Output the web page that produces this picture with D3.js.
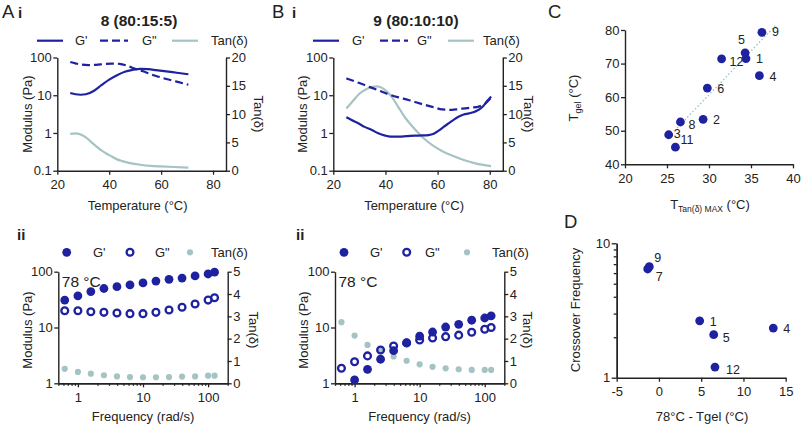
<!DOCTYPE html>
<html><head><meta charset="utf-8">
<script src="https://cdn.jsdelivr.net/npm/d3@7"></script>
<style>
body{margin:0;background:#fff}
svg{display:block;font-family:"Liberation Sans",Arial,Helvetica,sans-serif}
</style></head><body>
<svg id="c" width="802" height="427"></svg>
<script>
// ---------------- DATA ----------------
// Panel A i : sample 8 (80:15:5) temperature sweep
const tempA_Gp = [25,27,29,31,34,37,40,43,46,49,52,55,58,62,66,70.5];
const valA_Gp  = [11.5,10.6,10.3,10.6,13,18.5,26,34,42,47,50,49,46.5,43,39.5,36];
const tempA_Gpp = [25,27,29,32,35,38,41,44,47,50,53,56,59,62,66,70.5];
const valA_Gpp  = [76,70,65,63,64,67,69,68,60,50,43,36,31,27,23,19];
const tempA_Tan = [25,27,29,31,33,35,37,39,41,43,45,48,52,56,60,65,70.5];
const valA_Tan  = [6.5,6.6,6.4,5.9,5.1,4.3,3.6,3.0,2.5,2.0,1.7,1.35,1.05,0.85,0.75,0.65,0.55];
// Panel B i : sample 9 (80:10:10)
const tempB_Gp = [25,27,29.6,32,34.8,37,39.9,42,45,48,51.4,54,56.5,58.5,60.4,62.3,64.2,66,68,70,72,74,76,77.5,79,80.5];
const valB_Gp  = [2.6,2.2,1.8,1.45,1.2,1.0,0.85,0.8,0.8,0.82,0.85,0.86,0.88,0.95,1.15,1.45,1.8,2.2,2.7,3.1,3.3,3.6,4.2,5.2,7.0,9.2];
const tempB_Gpp = [25,30,33.5,37,41.2,45,48.8,52,55.3,58.5,61.7,65.5,68,70.7,73,75.8,78.4,80.5];
const valB_Gpp  = [28,21,17,13.8,10.6,8.8,7.5,6.4,5.5,4.8,4.2,4.1,4.3,4.5,4.7,5.0,6.1,8.6];
const tempB_Tan = [25,27.5,30,33,35,36.5,38,40,42.5,45,47.5,50,53,56,59,62,66,70,74.5,80.5];
const valB_Tan  = [11.0,12.3,13.6,14.5,14.8,14.9,14.8,14.2,13.0,11.2,9.4,8.0,6.5,5.2,4.2,3.4,2.6,1.9,1.3,0.8];
// Panels ii : frequency sweeps at 78 °C
const freq = [0.628,1,1.58,2.51,3.98,6.31,10,15.8,25.1,39.8,63.1,100,125.6];
const fA_Gp  = [31,37,44,50,54,58,63,68,73,77,84,91,98];
const fA_Gpp = [20,20,19.2,18.7,18.2,17.7,17.7,18.7,20.6,23,26.3,31,34.2];
const fA_Tan = [0.65,0.51,0.43,0.36,0.31,0.28,0.27,0.27,0.28,0.30,0.31,0.34,0.34];
const fB_Gp  = [null,1.15,1.78,2.7,3.84,5.3,7.0,8.3,10.2,11.4,13.5,14.8,16.2];
const fB_Gpp = [1.86,2.44,3.1,3.95,4.66,5.3,5.97,6.5,6.85,7.3,8.2,9.3,10];
const fB_Tan = [2.74,2.14,1.72,1.46,1.2,1.01,0.85,0.74,0.67,0.63,0.60,0.60,0.60];
// Panel C
const cIds  = ["9","5","1","12","4","6","2","8","3","11"];
const cTtan = [36.3,34.3,34.4,31.5,36.0,29.8,29.3,26.6,25.2,26.0];
const cTgel = [79.3,73.2,71.5,71.4,66.4,62.7,53.4,52.6,48.8,45.1];
const cFitX = [26.2,37.9];
const cFitY = [50.8,81.3];
// Panel D
const dIds  = ["9","7","1","5","4","12"];
const dDT   = [-1.14,-1.33,4.82,6.48,13.53,6.63];
const dFreq = [6.7,6.44,2.65,2.09,2.34,1.2];
// tick labels
const tempTicks = [20,40,60,80];
const modTicksT = [0.1,1,10,100];
const tanTicksT = [0,5,10,15,20];
const freqTicks = [1,10,100];
const modTicksF = [1,10,100];
const tanTicksF = [0,1,2,3,4,5];
const cXTicks = [20,25,30,35,40];
const cYTicks = [40,50,60,70,80];
const dXTicks = [-5,0,5,10,15];
const dYTicks = [1,10];

// ---------------- STYLE ----------------
const BLUE = "#1e22a0", TANC = "#a6c3c3", INK = "#222";
const FONT = '"Liberation Sans", Arial, Helvetica, sans-serif';
const svg = d3.select("#c");

function txt(x,y,s,o={}){
  const t = svg.append("text").attr("x",x).attr("y",y).text(s)
    .attr("font-size",o.size||13).attr("fill",o.fill||INK)
    .attr("text-anchor",o.anchor||"start").attr("font-family",FONT);
  if(o.bold) t.attr("font-weight","bold");
  if(o.rot!==undefined) t.attr("transform",`rotate(${o.rot},${x},${y})`);
  if(o.dom) t.attr("dominant-baseline",o.dom);
  return t;
}
function styleAxis(g,size){
  g.select(".domain").attr("stroke",INK).attr("stroke-width",1.4);
  g.selectAll(".tick line").attr("stroke",INK).attr("stroke-width",1.3);
  g.selectAll(".tick text").attr("font-size",size||13).attr("fill",INK).attr("font-family",FONT);
  return g;
}
function fmt(d){ return String(d); }

// ---------------- TEMPERATURE PANELS ----------------
function tempPanel(cfg){
  const x = d3.scaleLinear([20,85],[cfg.x0,cfg.x1]);
  const y = d3.scaleLog([0.1,100],[170.7,57.5]);
  const t = d3.scaleLinear([0,20],[170.7,57.5]);
  styleAxis(svg.append("g").attr("transform","translate(0,170.7)")
    .call(d3.axisBottom(x).tickValues(tempTicks).tickFormat(fmt).tickSize(4).tickSizeOuter(0).tickPadding(5)));
  styleAxis(svg.append("g").attr("transform",`translate(${cfg.x0},0)`)
    .call(d3.axisLeft(y).tickValues(modTicksT).tickFormat(fmt).tickSize(4).tickSizeOuter(0).tickPadding(1.5)));
  styleAxis(svg.append("g").attr("transform",`translate(${cfg.x1},0)`)
    .call(d3.axisRight(t).tickValues(tanTicksT).tickFormat(fmt).tickSize(4).tickSizeOuter(0).tickPadding(1.5)));
  const lineLog = (xs,vs)=>d3.line().curve(d3.curveMonotoneX).x((d,i)=>x(xs[i])).y(d=>y(d))(vs);
  const lineLin = (xs,vs)=>d3.line().curve(d3.curveMonotoneX).x((d,i)=>x(xs[i])).y(d=>t(d))(vs);
  svg.append("path").attr("d",lineLin(cfg.tanT,cfg.tanV)).attr("fill","none").attr("stroke",TANC).attr("stroke-width",2.2);
  svg.append("path").attr("d",lineLog(cfg.gppT,cfg.gppV)).attr("fill","none").attr("stroke",BLUE).attr("stroke-width",2.2).attr("stroke-dasharray","8,4");
  svg.append("path").attr("d",lineLog(cfg.gpT,cfg.gpV)).attr("fill","none").attr("stroke",BLUE).attr("stroke-width",2.2);
  // legend
  const L = cfg.leg, ly = 40.7;
  svg.append("line").attr("x1",L[0]).attr("x2",L[0]+26).attr("y1",ly).attr("y2",ly).attr("stroke",BLUE).attr("stroke-width",2.2);
  txt(L[1],ly+4.5,"G'");
  svg.append("line").attr("x1",L[2]).attr("x2",L[2]+28).attr("y1",ly).attr("y2",ly).attr("stroke",BLUE).attr("stroke-width",2.2).attr("stroke-dasharray","8,4");
  txt(L[3],ly+4.5,'G"');
  svg.append("line").attr("x1",L[4]).attr("x2",L[4]+26).attr("y1",ly).attr("y2",ly).attr("stroke",TANC).attr("stroke-width",2.2);
  txt(L[5],ly+4.5,"Tan(δ)");
  // titles
  txt(cfg.titleX,26,cfg.title,{size:15.5,bold:true,anchor:"middle"});
  txt(cfg.ylabX,114,"Modulus (Pa)",{rot:-90,anchor:"middle"});
  txt(cfg.rlabX,114,"Tan(δ)",{rot:90,anchor:"middle"});
  txt((cfg.x0+cfg.x1)/2-4,210,"Temperature (°C)",{anchor:"middle"});
}
tempPanel({x0:57.3,x1:226,tanT:tempA_Tan,tanV:valA_Tan,gpT:tempA_Gp,gpV:valA_Gp,gppT:tempA_Gpp,gppV:valA_Gpp,
  leg:[37,75,100,142,172,211],title:"8 (80:15:5)",titleX:139,ylabX:32,rlabX:254});
tempPanel({x0:333.3,x1:502.8,tanT:tempB_Tan,tanV:valB_Tan,gpT:tempB_Gp,gpV:valB_Gp,gppT:tempB_Gpp,gppV:valB_Gpp,
  leg:[313,352,380,417,448,483],title:"9 (80:10:10)",titleX:416,ylabX:307,rlabX:524});

// ---------------- FREQUENCY PANELS ----------------
function freqPanel(cfg){
  const x = d3.scaleLog([0.5,200],[cfg.x0,cfg.x1]);
  const y = d3.scaleLog([1,100],[383.3,271.7]);
  const t = d3.scaleLinear([0,5],[383.3,271.7]);
  const minors = [];
  [0.1,1,10,100].forEach(b=>{for(let k=2;k<=9;k++){const v=b*k; if(v>=0.5&&v<=200&&![1,10,100].includes(v)) minors.push(v);}});
  styleAxis(svg.append("g").attr("transform","translate(0,383.3)")
    .call(d3.axisBottom(x).tickValues(minors).tickFormat("").tickSize(2.5).tickSizeOuter(0)));
  styleAxis(svg.append("g").attr("transform","translate(0,383.3)")
    .call(d3.axisBottom(x).tickValues(freqTicks).tickFormat(fmt).tickSize(4).tickSizeOuter(0).tickPadding(5)));
  styleAxis(svg.append("g").attr("transform",`translate(${cfg.x0},0)`)
    .call(d3.axisLeft(y).tickValues(modTicksF).tickFormat(fmt).tickSize(4).tickSizeOuter(0).tickPadding(1.5)));
  styleAxis(svg.append("g").attr("transform",`translate(${cfg.x1},0)`)
    .call(d3.axisRight(t).tickValues(tanTicksF).tickFormat(fmt).tickSize(4).tickSizeOuter(0).tickPadding(1.5)));
  const idx = freq.map((f,i)=>i);
  svg.append("g").selectAll("circle").data(idx.filter(i=>cfg.tan[i]!=null)).join("circle")
    .attr("cx",i=>x(freq[i])).attr("cy",i=>t(cfg.tan[i])).attr("r",3.1).attr("fill",TANC);
  svg.append("g").selectAll("circle").data(idx.filter(i=>cfg.gpp[i]!=null)).join("circle")
    .attr("cx",i=>x(freq[i])).attr("cy",i=>y(cfg.gpp[i])).attr("r",3.4).attr("fill","none").attr("stroke",BLUE).attr("stroke-width",2.3);
  svg.append("g").selectAll("circle").data(idx.filter(i=>cfg.gp[i]!=null)).join("circle")
    .attr("cx",i=>x(freq[i])).attr("cy",i=>y(cfg.gp[i])).attr("r",4.4).attr("fill",BLUE);
  // legend
  const L = cfg.leg, ly = 252.3;
  svg.append("circle").attr("cx",L[0]).attr("cy",ly).attr("r",4.4).attr("fill",BLUE);
  txt(L[1],ly+4.5,"G'");
  svg.append("circle").attr("cx",L[2]).attr("cy",ly).attr("r",3.4).attr("fill","none").attr("stroke",BLUE).attr("stroke-width",2.3);
  txt(L[3],ly+4.5,'G"');
  svg.append("circle").attr("cx",L[4]).attr("cy",ly).attr("r",3.1).attr("fill",TANC);
  txt(L[5],ly+4.5,"Tan(δ)");
  txt(cfg.x0+3.5,287,"78 °C",{size:15.5});
  txt(cfg.ylabX,330,"Modulus (Pa)",{rot:-90,anchor:"middle"});
  txt(cfg.rlabX,330,"Tan(δ)",{rot:90,anchor:"middle"});
  txt((cfg.x0+cfg.x1)/2,421,"Frequency (rad/s)",{anchor:"middle"});
}
freqPanel({x0:58.3,x1:227.7,gp:fA_Gp,gpp:fA_Gpp,tan:fA_Tan,leg:[66.7,93,130,155,190,211],ylabX:32,rlabX:249});
freqPanel({x0:335,x1:504.3,gp:fB_Gp,gpp:fB_Gpp,tan:fB_Tan,leg:[344,370,406.7,425,467,492],ylabX:308,rlabX:523});

// ---------------- PANEL C ----------------
{
  const x = d3.scaleLinear([20,40],[625,793]);
  const y = d3.scaleLinear([40,80],[164.3,30]);
  styleAxis(svg.append("g").attr("transform","translate(0,164.3)")
    .call(d3.axisBottom(x).tickValues(cXTicks).tickFormat(fmt).tickSize(4).tickSizeOuter(0).tickPadding(5)));
  styleAxis(svg.append("g").attr("transform","translate(625,0)")
    .call(d3.axisLeft(y).tickValues(cYTicks).tickFormat(fmt).tickSize(4).tickSizeOuter(0).tickPadding(1.5)));
  svg.append("line").attr("x1",x(cFitX[0])).attr("y1",y(cFitY[0])).attr("x2",x(cFitX[1])).attr("y2",y(cFitY[1]))
    .attr("stroke","#9fcaca").attr("stroke-width",1.5).attr("stroke-dasharray","1.5,2.2");
  svg.append("g").selectAll("circle").data(cIds).join("circle")
    .attr("cx",(d,i)=>x(cTtan[i])).attr("cy",(d,i)=>y(cTgel[i])).attr("r",4.4).attr("fill",BLUE);
  const off = {"9":[10,4],"5":[-7,-9],"1":[10,4],"12":[8,7],"4":[10,5],"6":[10,5],"2":[10,5],"8":[8,7],"3":[5,3],"11":[5,-3]};
  cIds.forEach((id,i)=>txt(x(cTtan[i])+off[id][0],y(cTgel[i])+off[id][1],id,{size:12.5}));
  const yl = svg.append("text").attr("transform","translate(578,98) rotate(-90)").attr("text-anchor","middle")
    .attr("font-size",13).attr("fill",INK).attr("font-family",FONT);
  yl.append("tspan").text("T");
  yl.append("tspan").text("gel").attr("font-size",9).attr("dy",3);
  yl.append("tspan").text(" (°C)").attr("dy",-3);
  const xl = svg.append("text").attr("x",710).attr("y",209).attr("text-anchor","middle")
    .attr("font-size",13).attr("fill",INK).attr("font-family",FONT);
  xl.append("tspan").text("T");
  xl.append("tspan").text("Tan(δ) MAX").attr("font-size",8.5).attr("dy",3);
  xl.append("tspan").text(" (°C)").attr("dy",-3);
}

// ---------------- PANEL D ----------------
{
  const x = d3.scaleLinear([-5,15],[616.7,785.7]);
  const y = d3.scaleLog([1,10],[377.7,243.3]);
  styleAxis(svg.append("g").attr("transform","translate(0,377.7)")
    .call(d3.axisBottom(x).tickValues(dXTicks).tickFormat(fmt).tickSize(4).tickSizeOuter(0).tickPadding(5)));
  styleAxis(svg.append("g").attr("transform","translate(616.7,0)")
    .call(d3.axisLeft(y).tickValues([2,3,4,5,6,7,8,9]).tickFormat("").tickSize(3).tickSizeOuter(0)));
  styleAxis(svg.append("g").attr("transform","translate(616.7,0)")
    .call(d3.axisLeft(y).tickValues(dYTicks).tickFormat(fmt).tickSize(5).tickSizeOuter(0).tickPadding(1.5)));
  svg.append("g").selectAll("circle").data(dIds).join("circle")
    .attr("cx",(d,i)=>x(dDT[i])).attr("cy",(d,i)=>y(dFreq[i])).attr("r",4.4).attr("fill",BLUE);
  const off = {"9":[5,-5],"7":[8,12],"1":[10,5],"5":[9,7],"4":[10,5],"12":[11,7]};
  dIds.forEach((id,i)=>txt(x(dDT[i])+off[id][0],y(dFreq[i])+off[id][1],id,{size:12.5}));
  txt(580,310,"Crossover Frequency",{rot:-90,anchor:"middle"});
  txt(702,421,"78°C - Tgel (°C)",{anchor:"middle"});
}

// ---------------- PANEL LETTERS ----------------
txt(2,18,"A",{size:18.5});
txt(18,18,"i",{size:15,bold:true});
txt(272,18,"B",{size:18.5});
txt(292,18,"i",{size:15,bold:true});
txt(548,18,"C",{size:18.5});
txt(564,228,"D",{size:18.5});
txt(17,240,"ii",{size:15,bold:true});
txt(296,240,"ii",{size:15,bold:true});
</script>
</body></html>
